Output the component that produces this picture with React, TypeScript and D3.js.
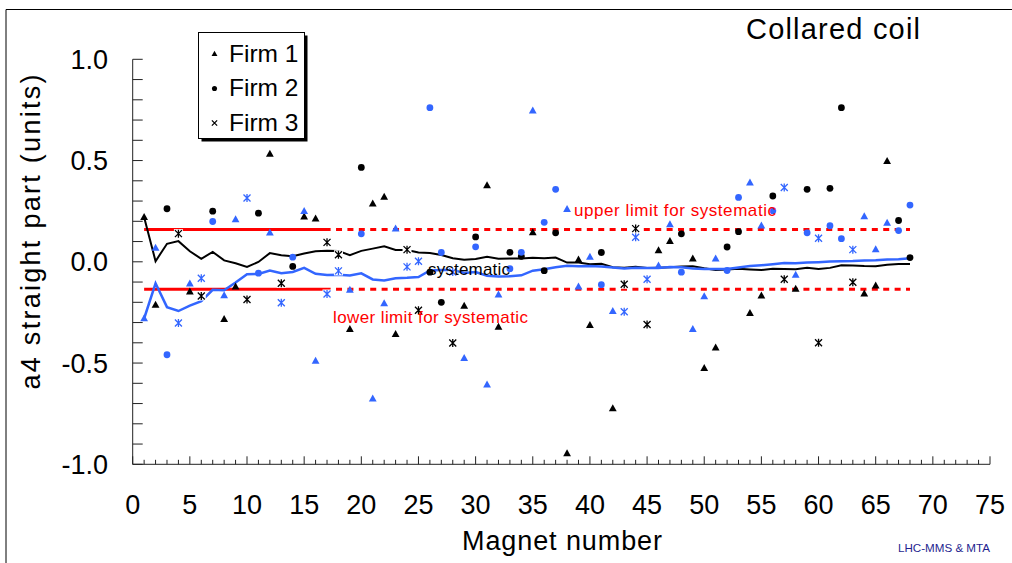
import React from "react";
import * as d3 from "d3";

// magnet numbers and which firm built each one (1, 2 or 3)
const magnets = [
  1, 2, 3, 4, 5, 6, 7, 8, 9, 10, 11, 12, 13, 14, 15, 16, 17, 18, 19, 20,
  21, 22, 23, 24, 25, 26, 27, 28, 29, 30, 31, 32, 33, 34, 35, 36, 37, 38, 39, 40,
  41, 42, 43, 44, 45, 46, 47, 48, 49, 50, 51, 52, 53, 54, 55, 56, 57, 58, 59, 60,
  61, 62, 63, 64, 65, 66, 67, 68,
];
const firm = [
  1, 1, 2, 3, 1, 3, 2, 1, 1, 3, 2, 1, 3, 2, 1, 1, 3, 3, 1, 2,
  1, 1, 1, 3, 3, 2, 2, 3, 1, 2, 1, 1, 2, 2, 1, 2, 2, 1, 1, 1,
  2, 1, 3, 3, 3, 1, 1, 2, 1, 1, 1, 2, 2, 1, 1, 2, 3, 1, 2, 3,
  2, 2, 3, 1, 1, 1, 2, 2,
];

// a4 in aperture 1 (black) and aperture 2 (blue)
const aperture1 = [
  0.22, -0.214, 0.262, 0.139, -0.148, -0.169, 0.25, -0.284, -0.123, -0.186,
  0.24, 0.532, -0.106, -0.023, 0.222, 0.212, 0.096, 0.035, -0.333, 0.466,
  0.287, 0.32, -0.358, 0.06, -0.239, -0.051, -0.2, -0.401, -0.219, 0.123,
  0.377, -0.322, 0.047, 0.027, 0.145, -0.044, 0.143, -0.947, 0.01, -0.313,
  0.046, -0.725, -0.111, 0.164, -0.31, 0.055, 0.101, 0.138, 0.015, -0.526,
  -0.425, 0.073, 0.149, -0.254, -0.168, 0.325, -0.086, -0.134, 0.358, -0.4,
  0.363, 0.761, -0.101, -0.158, -0.118, 0.496, 0.204, 0.021,
];
const aperture2 = [
  -0.28, 0.068, -0.459, -0.302, -0.109, -0.081, 0.199, -0.167, 0.209, 0.315,
  -0.056, 0.143, -0.202, 0.023, 0.25, -0.49, -0.159, -0.045, -0.139, 0.138,
  -0.677, -0.206, 0.163, -0.025, 0.003, 0.761, 0.046, -0.05, -0.476, 0.074,
  -0.607, -0.163, -0.034, 0.047, 0.746, 0.195, 0.358, 0.259, -0.123, 0.023,
  -0.113, -0.244, -0.247, 0.121, -0.086, -0.02, 0.184, -0.051, -0.333, -0.172,
  0.015, -0.043, 0.318, 0.39, 0.178, 0.252, 0.367, -0.066, 0.143, 0.116,
  0.178, 0.114, 0.06, 0.224, 0.06, 0.191, 0.154, 0.28,
];

// running "systematic" curves
const systematic1 = [
  0.22, 0.003, 0.089, 0.102, 0.052, 0.015, 0.049, 0.007, -0.007, -0.025,
  -0.001, 0.043, 0.032, 0.028, 0.041, 0.052, 0.054, 0.053, 0.033, 0.054,
  0.065, 0.077, 0.058, 0.058, 0.046, 0.043, 0.034, 0.018, 0.01, 0.014,
  0.025, 0.015, 0.016, 0.016, 0.02, 0.018, 0.021, -0.004, -0.004, -0.012,
  -0.01, -0.027, -0.029, -0.025, -0.031, -0.029, -0.027, -0.023, -0.022, -0.032,
  -0.04, -0.038, -0.034, -0.038, -0.041, -0.034, -0.035, -0.037, -0.03, -0.036,
  -0.03, -0.017, -0.018, -0.021, -0.022, -0.014, -0.011, -0.011,
];
const systematic2 = [
  -0.28, -0.106, -0.224, -0.243, -0.216, -0.194, -0.138, -0.141, -0.102, -0.061,
  -0.06, -0.043, -0.056, -0.05, -0.03, -0.059, -0.065, -0.064, -0.068, -0.057,
  -0.087, -0.092, -0.081, -0.079, -0.075, -0.043, -0.04, -0.04, -0.055, -0.051,
  -0.069, -0.072, -0.071, -0.067, -0.044, -0.037, -0.027, -0.019, -0.022, -0.021,
  -0.023, -0.028, -0.033, -0.03, -0.031, -0.031, -0.026, -0.027, -0.033, -0.036,
  -0.035, -0.035, -0.028, -0.021, -0.017, -0.012, -0.006, -0.007, -0.004, -0.002,
  0.001, 0.003, 0.004, 0.007, 0.008, 0.011, 0.013, 0.017,
];

const upperLimit = 0.16;
const lowerLimit = -0.136;
const solidRange = [1, 17];
const dottedRange = [17, 68];

const xTicks = [0, 5, 10, 15, 20, 25, 30, 35, 40, 45, 50, 55, 60, 65, 70, 75];
const yTicks = [-1, -0.5, 0, 0.5, 1];
const yTickLabels = ["-1.0", "-0.5", "0.0", "0.5", "1.0"];
const legendLabels = ["Firm 1", "Firm 2", "Firm 3"];

const W = 1012;
const H = 563;
const FONT = "'Liberation Sans', Arial, sans-serif";
const BLUE = "#3366ff";
const RED = "#ff0000";

const x = d3.scaleLinear().domain([0, 75]).range([132.7, 990]);
const y = d3.scaleLinear().domain([-1, 1]).range([464.3, 59.3]);

const Marker = ({ kind, cx, cy, color, s = 1 }: { kind: number; cx: number; cy: number; color: string; s?: number }) => {
  if (kind === 1) {
    return (
      <path
        d={`M${cx},${cy - 4.3 * s}L${cx + 3.9 * s},${cy + 2.7 * s}L${cx - 3.9 * s},${cy + 2.7 * s}Z`}
        fill={color}
      />
    );
  }
  if (kind === 2) return <circle cx={cx} cy={cy} r={3.4 * s} fill={color} />;
  const r = 3.5 * s;
  return (
    <g>
      {s === 1 && <rect x={cx - 4.5} y={cy - 4.5} width={9} height={9} fill="white" />}
      <path
        d={`M${cx - r},${cy - r}L${cx + r},${cy + r}M${cx - r},${cy + r}L${cx + r},${cy - r}` +
          (s === 1 ? `M${cx},${cy - r - 0.5}L${cx},${cy + r + 0.5}` : "")}
        stroke={color}
        strokeWidth={1.3}
        fill="none"
      />
    </g>
  );
};

export default function App() {
  const line = d3
    .line<number>()
    .x((_, i) => x(magnets[i]))
    .y((d) => y(d));

  const minor = d3.range(-10, 11).map((k) => k / 10);
  const xMinor = d3.range(0, 76);

  return (
    <svg
      width={W}
      height={H}
      style={{ position: "absolute", left: 0, top: 0, background: "white" }}
      fontFamily={FONT}
    >
      <rect width={W} height={H} fill="white" />
      {/* outer frame */}
      <line x1={6} x2={W} y1={9.5} y2={9.5} stroke="#000" strokeWidth={1} />
      <line x1={6} x2={6} y1={9.5} y2={H} stroke="#000" strokeWidth={1} />

      {/* axes */}
      <line x1={x(0)} x2={x(0)} y1={y(1)} y2={y(-1)} stroke="#222" strokeWidth={1} />
      <line x1={x(0)} x2={x(75)} y1={y(-1)} y2={y(-1)} stroke="#222" strokeWidth={1} />
      {minor.map((v) => (
        <line key={"yt" + v} x1={x(0)} x2={x(0) + 10} y1={y(v)} y2={y(v)} stroke="#222" strokeWidth={1} />
      ))}
      {xMinor.map((v) => (
        <line
          key={"xt" + v}
          x1={x(v)}
          x2={x(v)}
          y1={y(-1)}
          y2={y(-1) - (v % 5 === 0 ? 8 : 4.5)}
          stroke="#222"
          strokeWidth={1}
        />
      ))}
      {yTicks.map((v, i) => (
        <text key={"yl" + v} x={108} y={y(v) + 9.5} fontSize={27} textAnchor="end" fill="#000">
          {yTickLabels[i]}
        </text>
      ))}
      {xTicks.map((v) => (
        <text key={"xl" + v} x={x(v)} y={514} fontSize={27} textAnchor="middle" fill="#000">
          {v}
        </text>
      ))}
      <text x={562} y={550} fontSize={27} textAnchor="middle" textLength={200} lengthAdjust="spacing">
        Magnet number
      </text>
      <text
        transform="translate(40,232) rotate(-90)"
        fontSize={27}
        textAnchor="middle"
        textLength={315}
        lengthAdjust="spacing"
      >
        a4 straight part (units)
      </text>

      {/* limits */}
      <path
        d={`M${x(dottedRange[0])},${y(upperLimit)}H${x(dottedRange[1])}`}
        stroke={RED}
        strokeWidth={3}
        strokeDasharray="6,5.4"
        strokeDashoffset={-9}
      />
      <path
        d={`M${x(dottedRange[0])},${y(lowerLimit)}H${x(dottedRange[1])}`}
        stroke={RED}
        strokeWidth={3}
        strokeDasharray="6,5.4"
        strokeDashoffset={-9}
      />
      <path d={`M${x(solidRange[0])},${y(upperLimit)}H${x(solidRange[1])}`} stroke={RED} strokeWidth={3} />
      <path d={`M${x(solidRange[0])},${y(lowerLimit)}H${x(solidRange[1])}`} stroke={RED} strokeWidth={3} />

      {/* systematic curves */}
      <path d={line(systematic1) ?? ""} fill="none" stroke="#000" strokeWidth={2} />
      <path d={line(systematic2) ?? ""} fill="none" stroke={BLUE} strokeWidth={2.5} />

      {/* measured points */}
      {aperture1.map((v, i) => (
        <Marker key={"a" + i} kind={firm[i]} cx={x(magnets[i])} cy={y(v)} color="#000" />
      ))}
      {aperture2.map((v, i) => (
        <Marker key={"b" + i} kind={firm[i]} cx={x(magnets[i])} cy={y(v)} color={BLUE} />
      ))}

      {/* annotations */}
      <text x={574} y={216} fontSize={17} fill={RED} textLength={202} lengthAdjust="spacing">
        upper limit for systematic
      </text>
      <text x={333} y={323} fontSize={17} fill={RED} textLength={195} lengthAdjust="spacing">
        lower limit for systematic
      </text>
      <text x={428} y={275} fontSize={17} fill="#000" textLength={82} lengthAdjust="spacing">
        systematic
      </text>

      {/* legend */}
      <rect x={201.5} y={35.5} width={106} height={106} fill="#000" />
      <rect x={198.5} y={32.5} width={106} height={106} fill="white" stroke="#000" strokeWidth={1} />
      {legendLabels.map((t, i) => (
        <g key={t}>
          <Marker kind={i + 1} cx={214.5} cy={54 + i * 34.5} color="#000" s={0.75} />
          <text x={229} y={61.5 + i * 34.5} fontSize={24.5} fill="#000">
            {t}
          </text>
        </g>
      ))}

      <text x={920} y={39} fontSize={29} textAnchor="end" textLength={174} lengthAdjust="spacing">
        Collared coil
      </text>
      <text x={990} y={552} fontSize={11} textAnchor="end" fill="#1f1f8f" textLength={92} lengthAdjust="spacingAndGlyphs">
        LHC-MMS &amp; MTA
      </text>
    </svg>
  );
}
